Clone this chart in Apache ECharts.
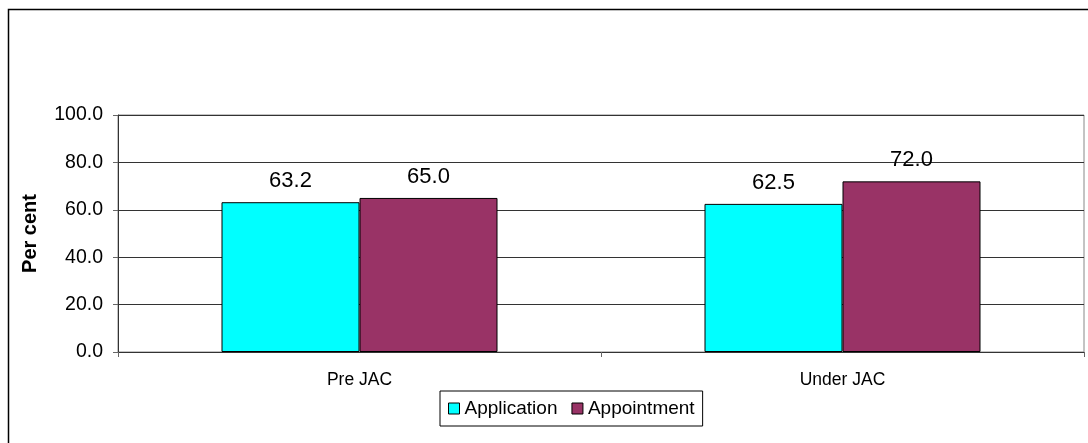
<!DOCTYPE html>
<html><head><meta charset="utf-8">
<script src="https://cdn.jsdelivr.net/npm/echarts@6/dist/echarts.min.js"></script>
<style>html,body{margin:0;padding:0;background:#fff}#c{width:1088px;height:443px}</style>
</head><body><div id="c"></div>
<script>
const categories = ['Pre JAC', 'Under JAC'];
const application = [63.2, 62.5];
const appointment = [65.0, 72.0];
const yTicks = [0, 20, 40, 60, 80, 100];

const chart = echarts.init(document.getElementById('c'), null, {renderer: 'canvas'});
const font = 'Arial, "Liberation Sans", sans-serif';
const barStyle = (color) => ({color: color, borderColor: '#000', borderWidth: 1});
const lbl = {show: true, position: 'top', distance: 10, color: '#000', fontFamily: font, fontSize: 22,
  formatter: p => p.value.toFixed(1)};
chart.setOption({
  animation: false,
  graphic: [{type: 'rect', shape: {x: 8.5, y: 9.5, width: 1200, height: 600}, style: {fill: 'none', stroke: '#000', lineWidth: 1.5}, z: -1}],
  grid: {left: 118, right: 4, top: 115, bottom: 91, show: true, borderColor: '#888', borderWidth: 1},
  legend: {left: 440, top: 391, itemWidth: 11, itemHeight: 11, itemGap: 14, padding: [8, 8, 8, 8],
    borderColor: '#000', borderWidth: 1, icon: 'rect',
    itemStyle: {borderColor: '#000', borderWidth: 1},
    textStyle: {fontFamily: font, fontSize: 19, color: '#000'},
    data: ['Application', 'Appointment']},
  xAxis: {type: 'category', data: categories,
    axisLine: {lineStyle: {color: '#333'}},
    axisTick: {show: true, length: 5, lineStyle: {color: '#666'}},
    axisLabel: {fontFamily: font, fontSize: 17.5, color: '#000', margin: 19}},
  yAxis: {type: 'value', min: 0, max: 100, interval: 20,
    name: 'Per cent', nameLocation: 'middle', nameGap: 78, nameRotate: 90,
    nameTextStyle: {fontFamily: font, fontSize: 20, fontWeight: 'bold', color: '#000'},
    axisLine: {show: true, lineStyle: {color: '#333'}},
    axisTick: {show: true, length: 5, inside: false, lineStyle: {color: '#666'}},
    splitLine: {lineStyle: {color: '#333', width: 1}},
    axisLabel: {fontFamily: font, fontSize: 19.5, color: '#000', margin: 15,
      formatter: v => yTicks.includes(v) ? v.toFixed(1) : ''}},
  series: [
    {name: 'Application', type: 'bar', data: application, barWidth: 138, barGap: '0%',
      itemStyle: barStyle('#00FFFF'), label: lbl},
    {name: 'Appointment', type: 'bar', data: appointment, barWidth: 138, barGap: '0%',
      itemStyle: barStyle('#993366'), label: lbl}
  ]
});
</script></body></html>
